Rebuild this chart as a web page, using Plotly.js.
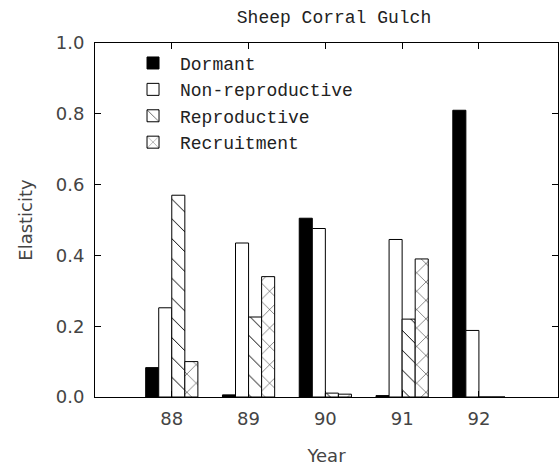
<!DOCTYPE html>
<html>
<head>
<meta charset="utf-8">
<script src="https://cdn.plot.ly/plotly-3.0.1.min.js"></script>
<style>html,body{margin:0;padding:0;background:#fff;}#chart{width:559px;height:466px;}</style>
</head>
<body>
<div id="chart"></div>
<script>
const years = [88, 89, 90, 91, 92];
const yearLabels = ["88", "89", "90", "91", "92"];
const dormant = [0.083, 0.006, 0.505, 0.004, 0.81];
const nonReproductive = [0.252, 0.435, 0.476, 0.445, 0.188];
const reproductive = [0.57, 0.226, 0.011, 0.22, 0];
const recruitment = [0.10, 0.34, 0.008, 0.39, 0];
const yTicks = [0, 0.2, 0.4, 0.6, 0.8, 1.0];
const yTickLabels = ["0.0", "0.2", "0.4", "0.6", "0.8", "1.0"];

const line = {color: "#000", width: 1};
const traces = [
  {type: "bar", name: "Dormant", x: years, y: dormant, legendgroup: "a",
   marker: {color: "#000", line: line}},
  {type: "bar", name: "Non-reproductive", x: years, y: nonReproductive, legendgroup: "b",
   marker: {color: "#fff", line: line}},
  {type: "bar", name: "Reproductive", x: years, y: reproductive, legendgroup: "c",
   marker: {color: "#fff", line: line,
     pattern: {shape: "\\", size: 14, solidity: 0.07, fgcolor: "#000", bgcolor: "#fff", fillmode: "replace"}}},
  {type: "bar", name: "Recruitment", x: years, y: recruitment, legendgroup: "d",
   marker: {color: "#fff", line: line,
     pattern: {shape: "x", size: 13, solidity: 0.07, fgcolor: "#000", bgcolor: "#fff", fillmode: "replace"}}}
];

const tickFont = {family: "DejaVu Sans", size: 18, color: "#444"};
const layout = {
  width: 559, height: 466,
  margin: {l: 95, r: 1, t: 43, b: 69},
  paper_bgcolor: "#fff", plot_bgcolor: "#fff",
  barmode: "group", bargap: 0.32, bargroupgap: 0,
  showlegend: true,
  title: {text: "Sheep Corral Gulch", x: 0.5975, xanchor: "center", y: 0.9635, yanchor: "middle",
          font: {family: "Liberation Mono", size: 18, color: "#222"}},
  xaxis: {range: [87, 93.03], tickmode: "array", tickvals: years, ticktext: yearLabels,
          showline: true, mirror: "ticks", linecolor: "#000", linewidth: 1,
          ticks: "inside", ticklen: 6, tickcolor: "#000", showgrid: false, zeroline: false,
          tickfont: tickFont, ticklabelstandoff: 5,
          title: {text: "Year", font: {family: "DejaVu Sans", size: 18, color: "#444"}, standoff: 23}},
  yaxis: {range: [0, 1], tickmode: "array", tickvals: yTicks, ticktext: yTickLabels,
          showline: true, mirror: "ticks", linecolor: "#000", linewidth: 1,
          ticks: "inside", ticklen: 6, tickcolor: "#000", showgrid: false, zeroline: false,
          tickfont: tickFont, ticklabelstandoff: 6,
          title: {text: "Elasticity", font: {family: "DejaVu Sans", size: 18, color: "#444"}, standoff: 18}},
  legend: {x: 0.067, xanchor: "left", y: 0.995, yanchor: "top", bgcolor: "rgba(0,0,0,0)",
           borderwidth: 0, itemwidth: 44, tracegroupgap: 3, traceorder: "normal",
           font: {family: "Liberation Mono", size: 18, color: "#222"}}
};

Plotly.newPlot("chart", traces, layout, {displayModeBar: false, staticPlot: true});
</script>
</body>
</html>
